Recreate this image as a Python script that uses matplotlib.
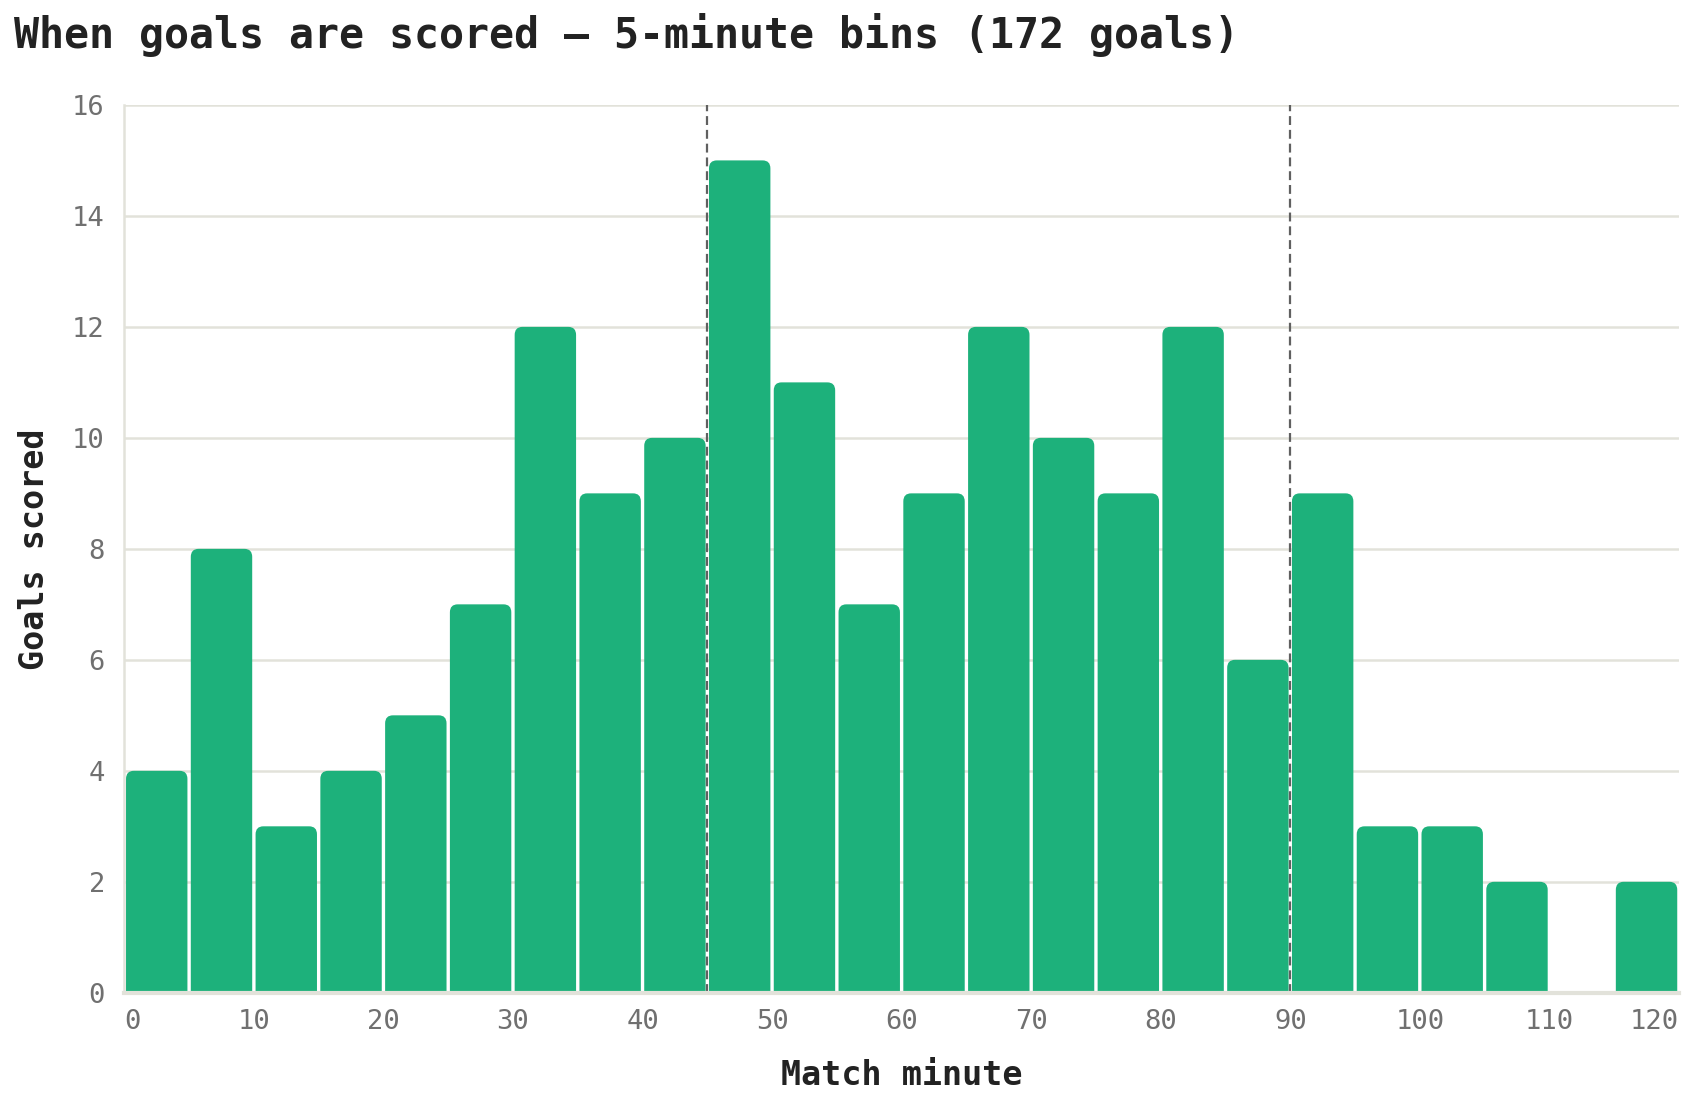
import numpy as np
import matplotlib.pyplot as plt
from matplotlib.patches import FancyBboxPatch

# ---------- data -----------------------------------------------------------
bin_starts = list(range(0, 120, 5))
goals = [4, 8, 3, 4, 5, 7, 12, 9, 10, 15, 11, 7, 9, 12, 10, 9, 12, 6,
         9, 3, 3, 2, 0, 2]
half_marks = [45, 90]
title = "When goals are scored \u2014 5-minute bins (172 goals)"

# ---------- plot -----------------------------------------------------------
plt.rcParams['font.family'] = ['DejaVu Sans Mono']

fig = plt.figure(figsize=(16.94, 11.02), dpi=100)
ax = fig.add_axes([0.0734, 0.0991, 0.9177, 0.8057])

ax.set_xlim(0, 120)
ax.set_ylim(0, 16)

# rounded-top bars, gap of a few pixels between them
gap = 0.13
r = 0.6
aspect = 0.24
for x0, g in zip(bin_starts, goals):
    if g == 0:
        continue
    p = FancyBboxPatch((x0 + gap, -0.5), 5 - 2 * gap, g + 0.5,
                       boxstyle=f"round,pad=0,rounding_size={r}",
                       mutation_aspect=aspect, facecolor='#1db17b',
                       edgecolor='none', zorder=2, clip_on=True)
    ax.add_patch(p)

for m in half_marks:
    ax.axvline(m, color='#606060', linestyle=(0, (4, 2.2)), linewidth=1.6,
               zorder=3)

ax.set_xticks(range(0, 121, 10))
ax.set_yticks(range(0, 17, 2))
ax.grid(axis='y', color='#e2e2da', linewidth=1.8, zorder=0)
ax.tick_params(length=0, labelsize=19.5, labelcolor='#707070')
ax.tick_params(axis='x', pad=12)
ax.tick_params(axis='y', pad=14)

xl = ax.get_xticklabels()
xl[0].set_ha('left')
xl[-1].set_ha('right')

for s in ['top', 'right']:
    ax.spines[s].set_visible(False)
ax.spines['left'].set_color('#e2e2da')
ax.spines['bottom'].set_color('#e2e2da')
ax.spines['left'].set_linewidth(1.8)
ax.spines['bottom'].set_linewidth(3)
ax.spines['bottom'].set_zorder(4)

ax.set_xlabel("Match minute", fontsize=24, fontweight='bold', color='#222222')
ax.xaxis.set_label_coords(0.5, -0.1035)
ax.xaxis.label.set_va('baseline')
ax.set_ylabel("Goals scored", fontsize=24, fontweight='bold', color='#222222')
ax.yaxis.set_label_coords(-0.058, 0.5)
ax.yaxis.label.set_va('center')

fig.text(0.0083, 0.956, title, fontsize=30, fontweight='bold', color='#222222',
         ha='left', va='baseline')

fig.savefig("out.png", dpi=100)
